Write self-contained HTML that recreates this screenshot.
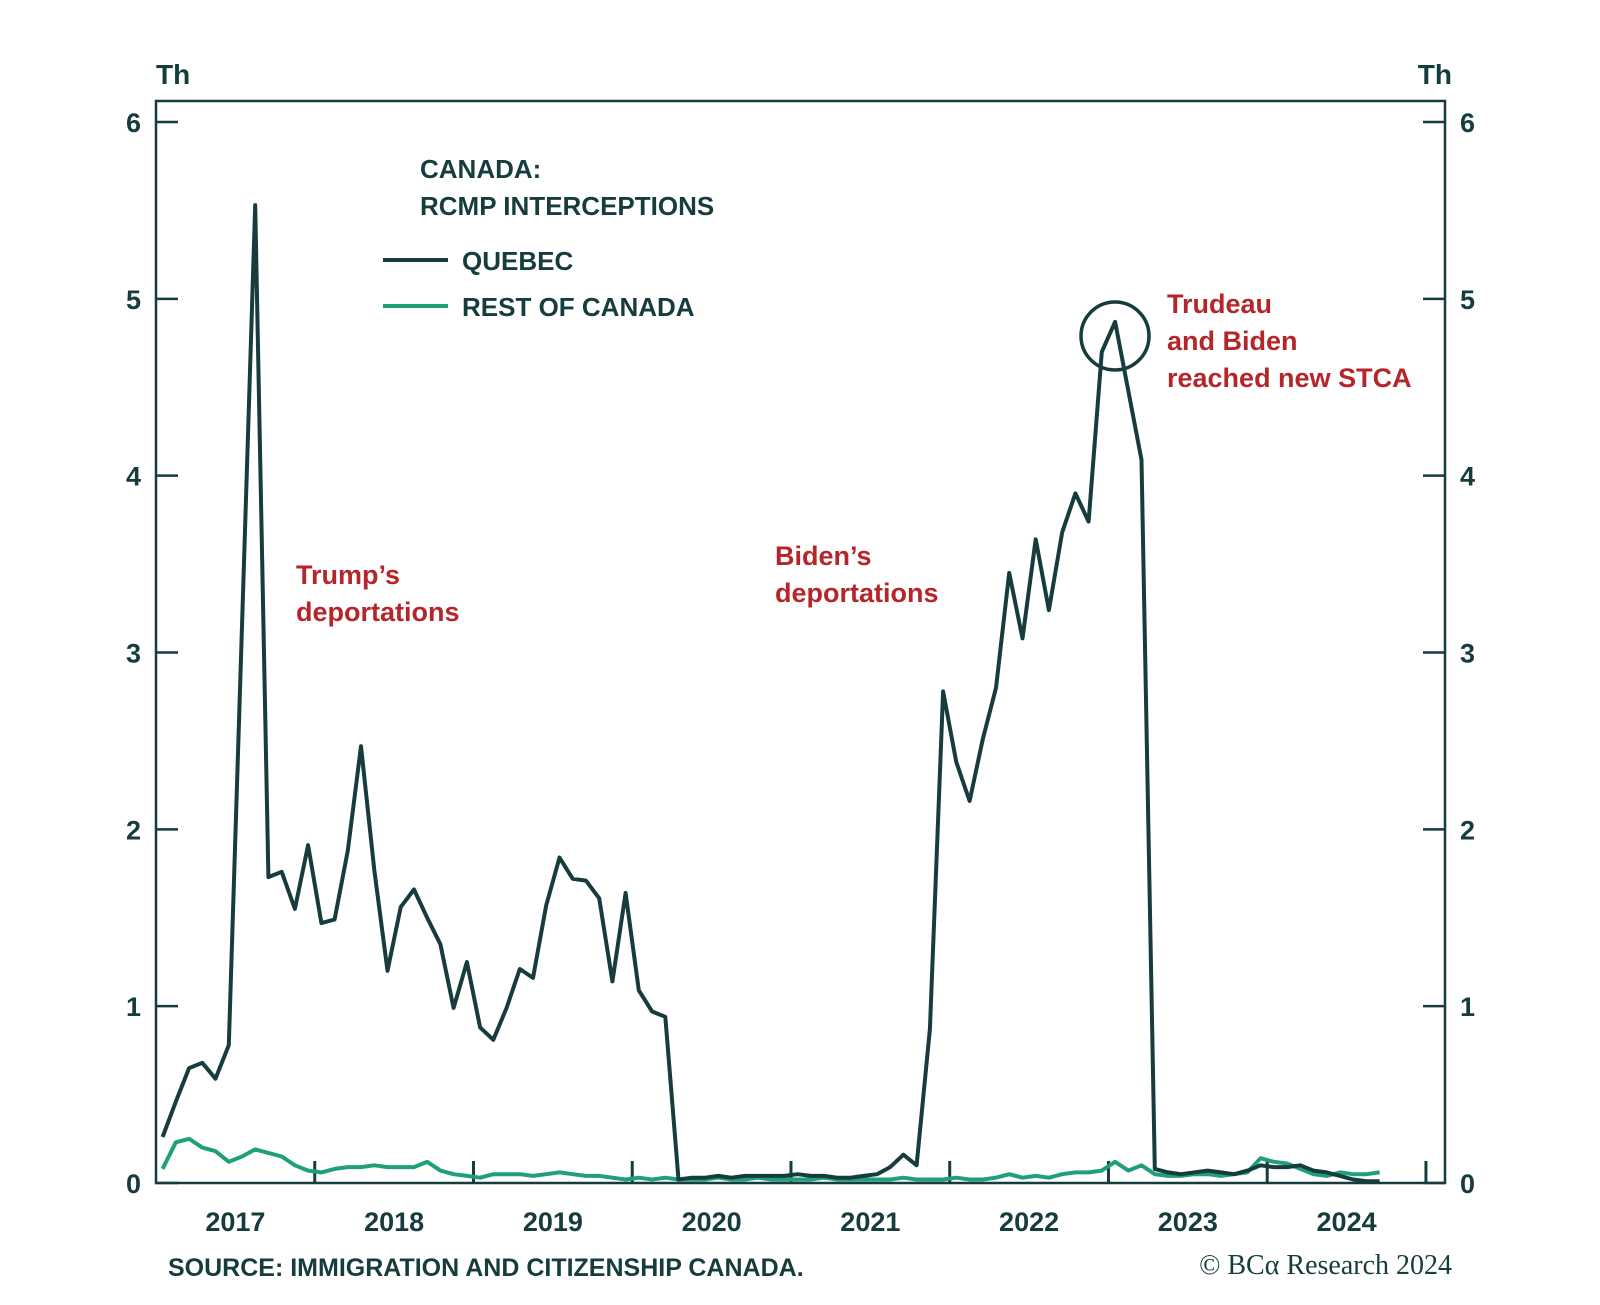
<!DOCTYPE html>
<html><head><meta charset="utf-8"><style>
html,body{margin:0;padding:0;background:#fff}
svg{display:block}
text{font-family:"Liberation Sans",sans-serif;fill:#163c3e}
</style></head><body>
<svg id="chart" width="1600" height="1305" viewBox="0 0 1600 1305">
<g id="axes"></g>
<g id="series"></g>
<g id="annot"></g>
</svg>
<script>
const yTicks=[0,1,2,3,4,5,6];
const yearLabels=["2017","2018","2019","2020","2021","2022","2023","2024"];
const yearTicks=[2018,2019,2020,2021,2022,2023,2024,2025];
const quebec=[0.26,0.46,0.65,0.68,0.59,0.78,3.15,5.53,1.73,1.76,1.55,1.91,1.47,1.49,1.88,2.47,1.77,1.20,1.56,1.66,1.50,1.35,0.99,1.25,0.88,0.81,0.99,1.21,1.16,1.57,1.84,1.72,1.71,1.61,1.14,1.64,1.09,0.97,0.94,0.02,
0.03,0.03,0.04,0.03,0.04,0.04,0.04,0.04,0.05,0.04,0.04,0.03,0.03,0.04,0.05,0.09,0.16,0.10,0.87,2.78,2.38,2.16,2.51,2.80,3.45,3.08,3.64,3.24,3.68,3.90,3.74,4.70,4.87,4.48,4.09,0.08,
0.06,0.05,0.06,0.07,0.06,0.05,0.07,0.10,0.09,0.09,0.10,0.07,0.06,0.04,0.02,0.01,0.01];
const restOfCanada=[0.08,0.23,0.25,0.20,0.18,0.12,0.15,0.19,0.17,0.15,0.10,0.07,0.06,0.08,0.09,0.09,0.10,0.09,0.09,0.09,0.12,0.07,0.05,0.04,0.03,0.05,0.05,0.05,0.04,0.05,0.06,0.05,0.04,0.04,0.03,0.02,0.03,0.02,0.03,0.02,
0.02,0.02,0.03,0.02,0.02,0.03,0.02,0.02,0.02,0.02,0.03,0.02,0.02,0.02,0.02,0.02,0.03,0.02,0.02,0.02,0.03,0.02,0.02,0.03,0.05,0.03,0.04,0.03,0.05,0.06,0.06,0.07,0.12,0.07,0.10,0.05,
0.04,0.04,0.05,0.05,0.04,0.05,0.06,0.14,0.12,0.11,0.08,0.05,0.04,0.06,0.05,0.05,0.06];
const startYear=2017;

const L=156,R=1445,T=101,Y0=1183,Y6=122;
const tMin=2017,tMax=2025.12;
const xs=t=>L+(t-tMin)/(tMax-tMin)*(R-L);
const ys=v=>Y0-(v/6)*(Y0-Y6);
const xm=i=>xs(startYear+(i+0.5)/12);
const NS='http://www.w3.org/2000/svg';
function mk(tag,parent,attrs){const e=document.createElementNS(NS,tag);for(const k in attrs)e.setAttribute(k,attrs[k]);parent.appendChild(e);return e;}
const C='#163c3e';
const ax=document.getElementById('axes');
let fr=mk('rect',ax,{x:L,y:T,width:R-L,height:Y0-T,fill:'none',stroke:C,'stroke-width':2.5});


yTicks.forEach(v=>{
  let y=ys(v);
  let t1=mk('line',ax,{x1:L,x2:L+22,y1:y,y2:y,stroke:C,'stroke-width':2.5});
  
  
  let t2=mk('line',ax,{x1:R-22,x2:R,y1:y,y2:y,stroke:C,'stroke-width':2.5});
  
  
  let a=mk('text',ax,{x:L-15,y:y+10,'text-anchor':'end','font-size':27,'font-weight':'bold'});a.textContent=v;
  
  
  let b=mk('text',ax,{x:R+15,y:y+10,'font-size':27,'font-weight':'bold'});b.textContent=v;
  
  
});
yearTicks.forEach(t=>{
  let x=xs(t);
  let l=mk('line',ax,{x1:x,x2:x,y1:Y0,y2:Y0-22,stroke:C,'stroke-width':3});
  
  
});
yearLabels.forEach((s,i)=>{
  let t=mk('text',ax,{x:xs(startYear+i+0.5),y:1231,'text-anchor':'middle','font-size':27,'font-weight':'bold'});t.textContent=s;
  
  
});
const se=document.getElementById('series');
function line(arr,color,name){
  let d=arr.map((v,i)=>(i?'L':'M')+xm(i).toFixed(1)+','+ys(v).toFixed(1)).join('');
  let p=mk('path',se,{d:d,fill:'none',stroke:color,'stroke-width':4,'stroke-linejoin':'round'});
  
  
}
line(restOfCanada,'#1fa07a','rest-of-canada-line');
line(quebec,C,'quebec-line');

const an=document.getElementById('annot');
function txt(x,y,s,o,name){let t=mk('text',an,Object.assign({x:x,y:y},o));t.textContent=s;

return t;}
txt(156,84,'Th',{'font-size':28,'font-weight':'bold'},'left-axis-unit');
txt(1452,84,'Th',{'font-size':28,'font-weight':'bold','text-anchor':'end'},'right-axis-unit');
txt(420,178,'CANADA:',{'font-size':26,'font-weight':'bold'},'chart-title-line1');
txt(420,215,'RCMP INTERCEPTIONS',{'font-size':26,'font-weight':'bold'},'chart-title-line2');
let l1=mk('line',an,{x1:383,x2:448,y1:260,y2:260,stroke:C,'stroke-width':4});


txt(462,270,'QUEBEC',{'font-size':26,'font-weight':'bold'},'legend-quebec-label');
let l2=mk('line',an,{x1:383,x2:448,y1:306,y2:306,stroke:'#1fa07a','stroke-width':4});


txt(462,316,'REST OF CANADA',{'font-size':26,'font-weight':'bold'},'legend-rest-label');
const red={'font-size':27,'font-weight':'bold',style:'fill:#b5262b'};
txt(296,584,"Trump\u2019s",red,'trump-annotation-line1');
txt(296,621,'deportations',red,'trump-annotation-line2');
txt(775,565,"Biden\u2019s",red,'biden-annotation-line1');
txt(775,602,'deportations',red,'biden-annotation-line2');
txt(1167,313,'Trudeau',red,'stca-annotation-line1');
txt(1167,350,'and Biden',red,'stca-annotation-line2');
txt(1167,387,'reached new STCA',red,'stca-annotation-line3');
let c=mk('circle',an,{cx:1115,cy:336,r:34,fill:'none',stroke:C,'stroke-width':3.5});


txt(168,1276,'SOURCE: IMMIGRATION AND CITIZENSHIP CANADA.',{'font-size':25,'font-weight':'bold'},'source-note');
txt(1452,1274,'\u00a9 BC\u03b1 Research 2024',{'font-size':28,'text-anchor':'end',style:'font-family:"Liberation Serif",serif'},'copyright');
</script>
</body></html>
